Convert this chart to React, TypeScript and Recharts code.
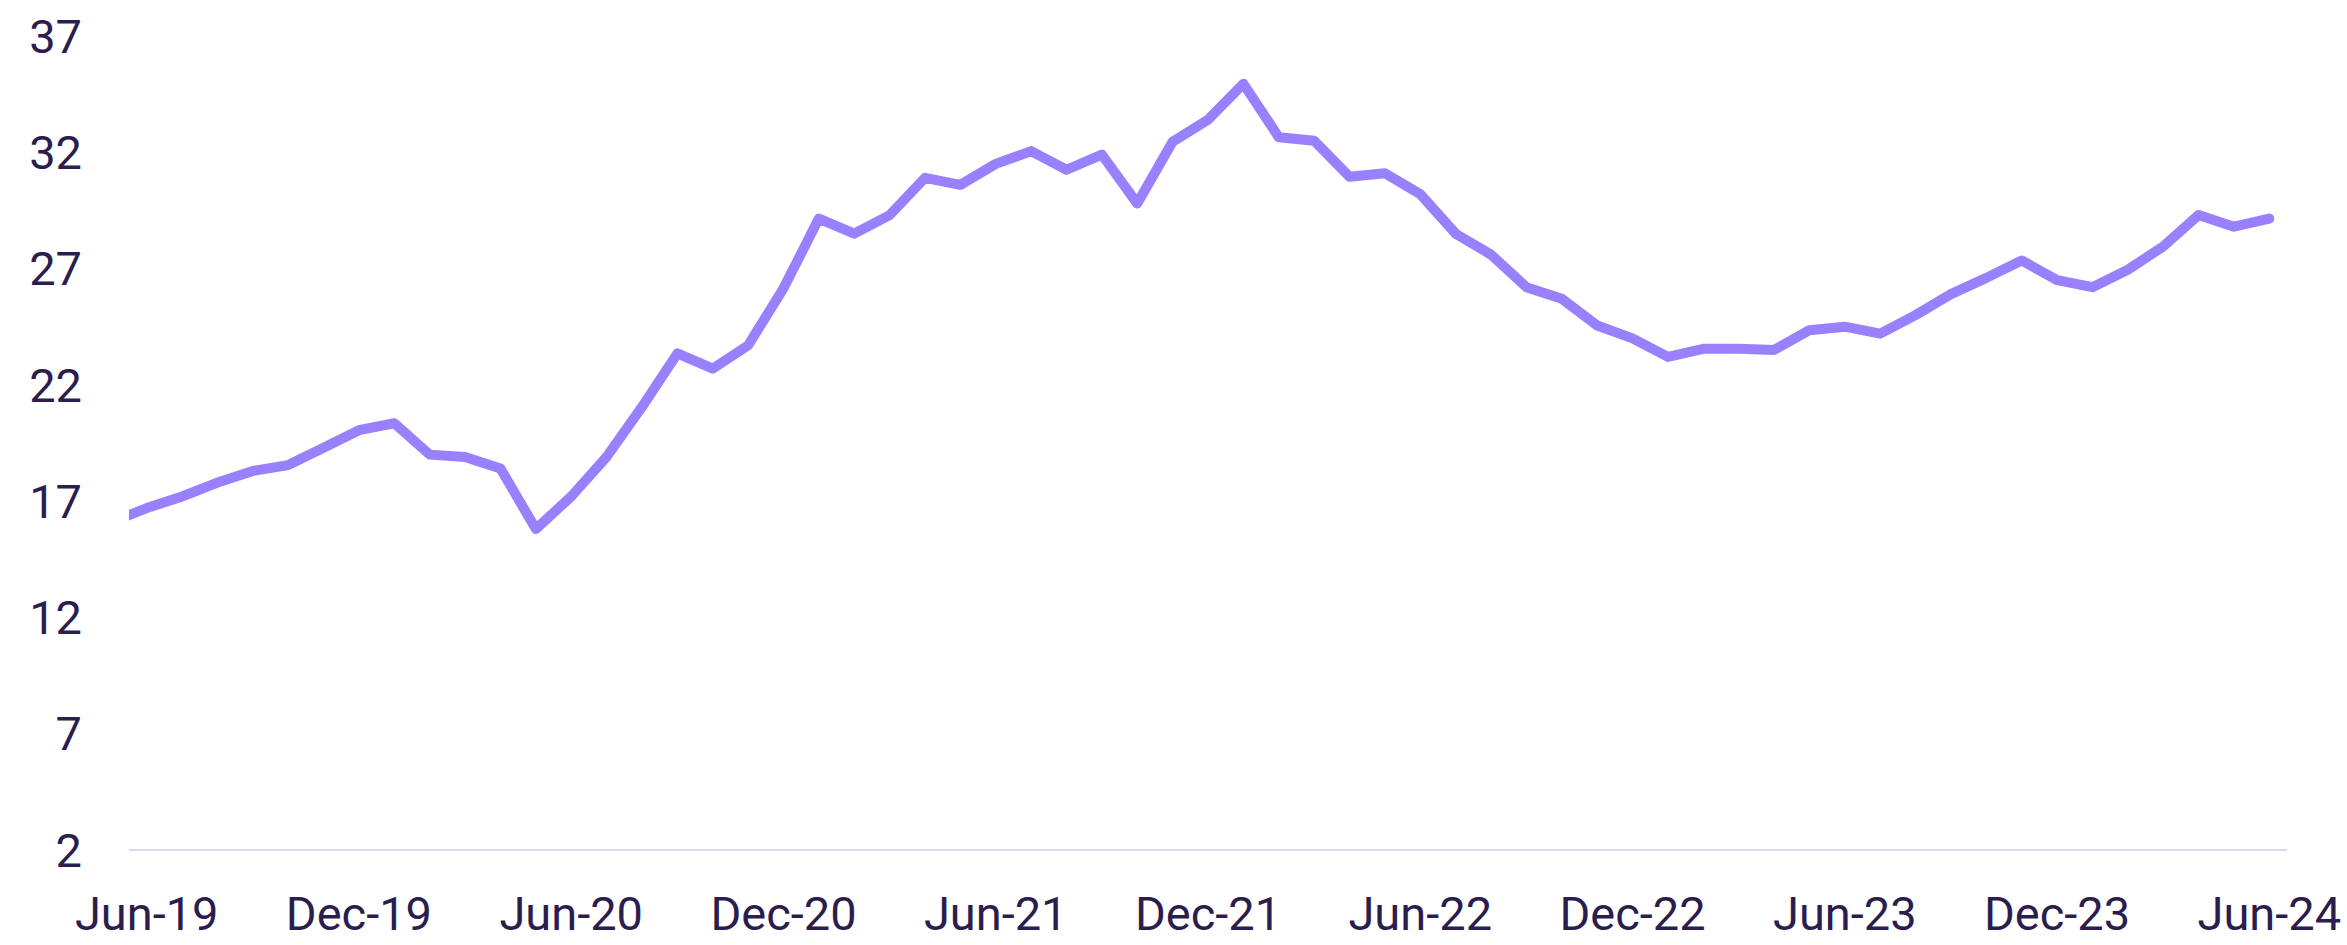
import { LineChart, Line, XAxis, YAxis } from 'recharts'

// monthly series; May-19 sits just left of the plot and is clipped
const months = [
  'May-19', 'Jun-19', 'Jul-19', 'Aug-19', 'Sep-19', 'Oct-19', 'Nov-19', 'Dec-19',
  'Jan-20', 'Feb-20', 'Mar-20', 'Apr-20', 'May-20', 'Jun-20', 'Jul-20', 'Aug-20',
  'Sep-20', 'Oct-20', 'Nov-20', 'Dec-20', 'Jan-21', 'Feb-21', 'Mar-21', 'Apr-21',
  'May-21', 'Jun-21', 'Jul-21', 'Aug-21', 'Sep-21', 'Oct-21', 'Nov-21', 'Dec-21',
  'Jan-22', 'Feb-22', 'Mar-22', 'Apr-22', 'May-22', 'Jun-22', 'Jul-22', 'Aug-22',
  'Sep-22', 'Oct-22', 'Nov-22', 'Dec-22', 'Jan-23', 'Feb-23', 'Mar-23', 'Apr-23',
  'May-23', 'Jun-23', 'Jul-23', 'Aug-23', 'Sep-23', 'Oct-23', 'Nov-23', 'Dec-23',
  'Jan-24', 'Feb-24', 'Mar-24', 'Apr-24', 'May-24', 'Jun-24',
]

const values = [
  16.1, 16.7, 17.2, 17.8, 18.3, 18.55, 19.3, 20.05,
  20.35, 19.0, 18.9, 18.4, 15.8, 17.2, 18.9, 21.05,
  23.35, 22.7, 23.7, 26.15, 29.15, 28.5, 29.3, 30.9,
  30.6, 31.5, 32.05, 31.25, 31.9, 29.8, 32.45, 33.4,
  34.95, 32.65, 32.5, 30.95, 31.1, 30.2, 28.5, 27.6,
  26.2, 25.7, 24.55, 24.0, 23.2, 23.55, 23.55, 23.5,
  24.35, 24.5, 24.2, 25.0, 25.9, 26.6, 27.35, 26.5,
  26.2, 26.95, 27.95, 29.3, 28.8, 29.15,
]

const xTicks = [0, 6, 12, 18, 24, 30, 36, 42, 48, 54, 60]
const yTicks = [2, 7, 12, 17, 22, 27, 32, 37]

const data = months.map((month, i) => ({ idx: i - 1, month, value: values[i] }))

const textColor = '#2b1d4e'
const tickStyle = { fill: textColor, fontSize: 47, fontFamily: 'Roboto, sans-serif' }

export default function App() {
  return (
    <div style={{ position: 'absolute', left: 0, top: 0, background: '#fff' }}>
      <LineChart
        width={2347}
        height={945}
        data={data}
        margin={{ top: 36, right: 60, left: 0, bottom: 0 }}
      >
        <XAxis
          type="number"
          dataKey="idx"
          domain={[-0.5, 60.5]}
          allowDataOverflow
          ticks={xTicks}
          interval={0}
          tickFormatter={(i: number) => months[i + 1]}
          tick={tickStyle}
          tickLine={false}
          tickSize={0}
          tickMargin={47}
          height={95}
          axisLine={{ stroke: '#dcd6ef', strokeWidth: 2 }}
        />
        <YAxis
          type="number"
          domain={[2, 37]}
          ticks={yTicks}
          interval={0}
          tick={tickStyle}
          tickLine={false}
          tickSize={0}
          tickMargin={47}
          axisLine={false}
          width={129}
        />
        <Line
          type="linear"
          dataKey="value"
          stroke="#9980ff"
          strokeWidth={10}
          strokeLinecap="round"
          strokeLinejoin="round"
          dot={false}
          activeDot={false}
          isAnimationActive={false}
        />
      </LineChart>
    </div>
  )
}
